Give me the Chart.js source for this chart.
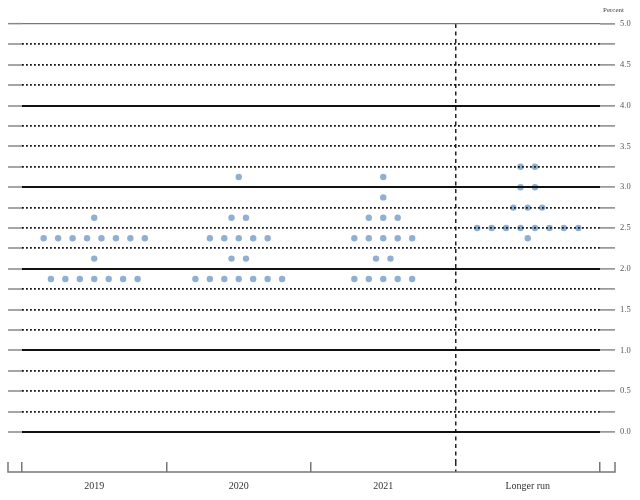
<!DOCTYPE html>
<html>
<head>
<meta charset="utf-8">
<script src="https://cdn.jsdelivr.net/npm/chart.js@4"></script>
<style>
  html, body { margin: 0; padding: 0; background: #fff; }
  #dotPlot { display: block; }
</style>
</head>
<body>
<canvas id="dotPlot" width="640" height="500"></canvas>
<script>
const yearLabels = ['2019', '2020', '2021', 'Longer run']
const yearBounds = [0, 1, 2, 3, 4]
const rateTicks = [0, 0.25, 0.5, 0.75, 1, 1.25, 1.5, 1.75, 2, 2.25, 2.5, 2.75, 3, 3.25, 3.5, 3.75, 4, 4.25, 4.5, 4.75, 5]
const unitLabel = 'Percent'

// one entry per participant
const dots2019 = [2.625, 2.375, 2.375, 2.375, 2.375, 2.375, 2.375, 2.375, 2.375, 2.125,
  1.875, 1.875, 1.875, 1.875, 1.875, 1.875, 1.875]
const dots2020 = [3.125, 2.625, 2.625, 2.375, 2.375, 2.375, 2.375, 2.375, 2.125, 2.125,
  1.875, 1.875, 1.875, 1.875, 1.875, 1.875, 1.875]
const dots2021 = [3.125, 2.875, 2.625, 2.625, 2.625, 2.375, 2.375, 2.375, 2.375, 2.375,
  2.125, 2.125, 1.875, 1.875, 1.875, 1.875, 1.875]
const dotsLongerRun = [3.25, 3.25, 3, 3, 2.75, 2.75, 2.75, 2.5, 2.5, 2.5, 2.5, 2.5, 2.5, 2.5, 2.5, 2.375]

const dotColor = '#8fb0d2'
const serif = "'Liberation Serif', 'DejaVu Serif', serif"
const clear = 'rgba(0,0,0,0)'

// spread equal rates side by side around the column centre
function placeDots(rates, column) {
  const counts = {}
  rates.forEach(r => { counts[r] = (counts[r] || 0) + 1 })
  const seen = {}
  return rates.map(r => {
    const i = seen[r] || 0
    seen[r] = i + 1
    return { x: column + 0.5 + (i - (counts[r] - 1) / 2) * 0.1, y: r }
  })
}

function tickValue(ctx) {
  return ctx.tick ? ctx.tick.value : null
}

function setTicks(values) {
  return scale => { scale.ticks = values.map(v => ({ value: v })) }
}

// bottom rule and end ticks reach out under the y tick marks
const bottomFrame = {
  id: 'bottomFrame',
  afterDraw(chart) {
    const { ctx, scales } = chart
    const left = scales.y.left
    const right = scales.yr.left + scales.yr.options.grid.tickLength
    const top = scales.x.top
    const base = scales.years.top
    ctx.save()
    ctx.strokeStyle = '#777'
    ctx.lineWidth = 1.5
    ctx.beginPath()
    ctx.moveTo(left, top)
    ctx.lineTo(left, base)
    ctx.lineTo(right, base)
    ctx.lineTo(right, top)
    ctx.stroke()

    ctx.fillStyle = '#444'
    ctx.font = '7px ' + serif
    ctx.textAlign = 'right'
    ctx.textBaseline = 'middle'
    ctx.fillText(unitLabel, right + 9, scales.yr.top - 14)
    ctx.restore()
  }
}

const columns = [dots2019, dots2020, dots2021, dotsLongerRun]

new Chart(document.getElementById('dotPlot'), {
  type: 'scatter',
  data: {
    datasets: columns.map((rates, i) => ({
      label: yearLabels[i],
      data: placeDots(rates, i),
      backgroundColor: dotColor,
      borderWidth: 0,
      pointRadius: 3.2,
      xAxisID: 'x',
      yAxisID: 'y'
    }))
  },
  options: {
    responsive: false,
    animation: false,
    layout: { padding: { left: 8, right: 0, top: 24, bottom: 0 } },
    plugins: {
      legend: { display: false },
      tooltip: { enabled: false }
    },
    scales: {
      x: {
        type: 'linear',
        position: 'bottom',
        weight: 0,
        min: 0,
        max: 4,
        afterBuildTicks: setTicks(yearBounds),
        afterFit: scale => { scale.height = 10 },
        ticks: { display: false },
        border: { display: false, dash: [4, 3.5] },
        grid: {
          drawOnChartArea: true,
          color: ctx => tickValue(ctx) === 3 ? '#222' : clear,
          lineWidth: 1.5,
          tickLength: 10,
          tickWidth: 1.5,
          tickColor: ctx => tickValue(ctx) === 3 ? '#222' : '#777',
          tickBorderDash: ctx => tickValue(ctx) === 3 ? [4, 3.5] : []
        }
      },
      years: {
        type: 'linear',
        position: 'bottom',
        weight: 1,
        min: 0,
        max: 4,
        afterBuildTicks: setTicks([0.5, 1.5, 2.5, 3.5]),
        afterFit: scale => { scale.height = 28 },
        border: { display: false },
        grid: { drawOnChartArea: false, drawTicks: false },
        ticks: {
          autoSkip: false,
          maxRotation: 0,
          padding: 8,
          color: '#333',
          font: { family: serif, size: 10 },
          callback: value => yearLabels[Math.floor(value)]
        }
      },
      y: {
        type: 'linear',
        position: 'left',
        min: -0.368,
        max: 5,
        afterBuildTicks: setTicks(rateTicks),
        afterFit: scale => { scale.width = 14 },
        ticks: { display: false },
        border: { display: false },
        grid: {
          z: 1,
          color: ctx => {
            const v = tickValue(ctx)
            if (v === 5) return '#777'
            return Number.isInteger(v) ? '#111' : clear
          },
          lineWidth: ctx => tickValue(ctx) === 5 ? 1.3 : 2,
          tickLength: 14,
          tickWidth: 1.5,
          tickColor: '#888',
          tickBorderDash: []
        }
      },
      yr: {
        type: 'linear',
        position: 'right',
        min: -0.368,
        max: 5,
        afterBuildTicks: setTicks(rateTicks),
        afterFit: scale => { scale.width = 40 },
        border: { display: false, dash: [1.8, 2.2] },
        grid: {
          z: 1,
          color: ctx => {
            const v = tickValue(ctx)
            return v !== null && !Number.isInteger(v) ? '#111' : clear
          },
          lineWidth: 1.8,
          tickLength: 15,
          tickWidth: 1.5,
          tickColor: '#888',
          tickBorderDash: []
        },
        ticks: {
          autoSkip: false,
          padding: 5,
          color: '#555',
          font: { family: serif, size: 8.5 },
          callback: value => (value * 2) % 1 === 0 ? value.toFixed(1) : ''
        }
      }
    }
  },
  plugins: [bottomFrame]
})
</script>
</body>
</html>
